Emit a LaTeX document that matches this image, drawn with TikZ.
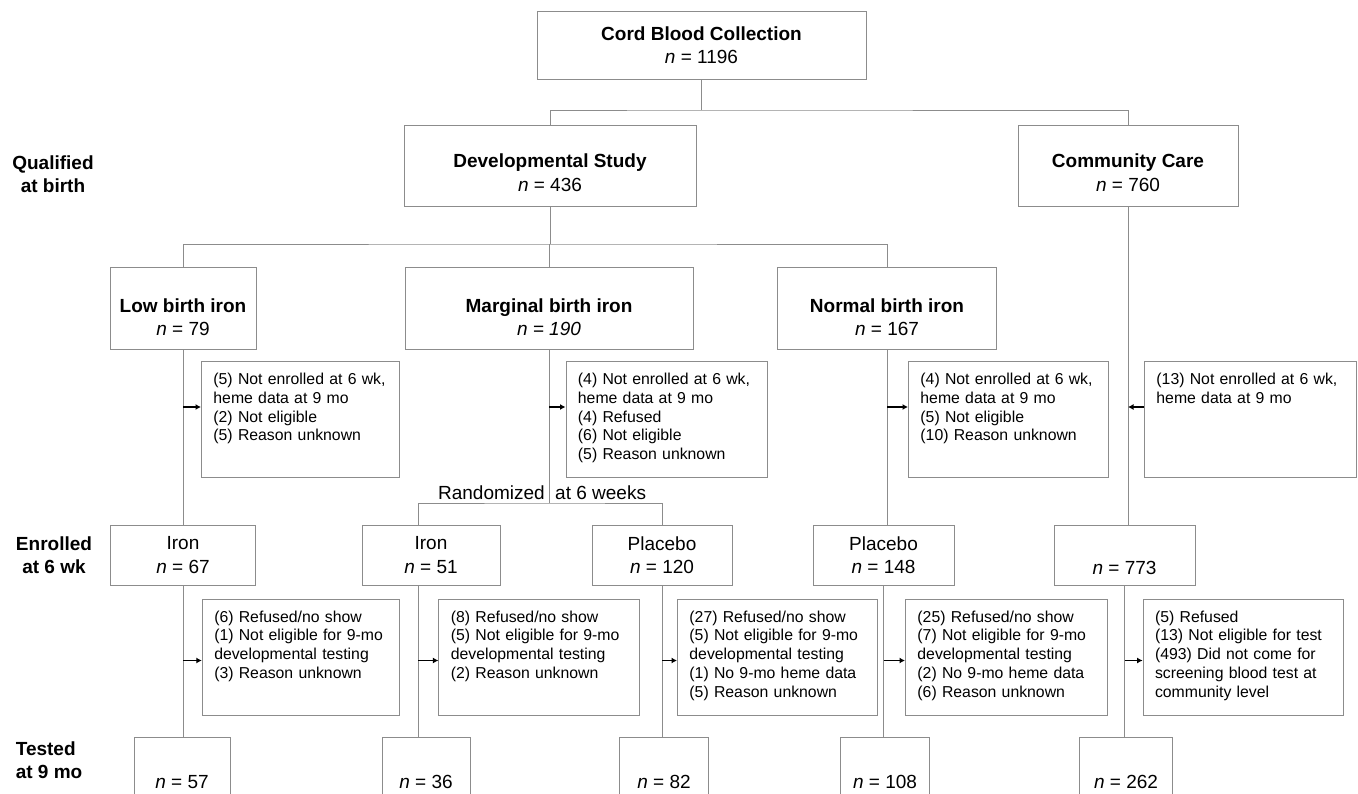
\documentclass[tikz,border=0pt]{standalone}
\usepackage{fontspec}
\setmainfont{Liberation Sans}
\usetikzlibrary{arrows.meta,positioning,calc}
\definecolor{frame}{HTML}{8C8C8C}

\begin{document}
\begin{tikzpicture}[x=1pt,y=-1pt,
  s/.style={draw=frame,line width=0.9pt,inner sep=0pt,align=center,
            font=\fontsize{19}{23.5}\selectfont},
  e/.style={draw=frame,line width=0.9pt,anchor=north west,align=left,
            inner xsep=12pt,inner ysep=6pt,text height=17pt,text depth=87pt,
            font=\fontsize{15.8}{18.8}\selectfont},
  lab/.style={inner sep=0pt,align=center,font=\fontsize{19}{22.6}\selectfont\bfseries},
  rz/.style={inner sep=0pt,font=\fontsize{19}{23}\selectfont},
  ln/.style={draw=frame,line width=0.9pt},
  a/.style={-{Latex[length=5.5pt,width=6pt]},line width=1.3pt}
]
  \useasboundingbox (0,0) rectangle (1358,793);

  % row labels
  \node[lab] (qual) at (53,174) {Qualified\\at birth};
  \node[lab] (enrol) at (54,555.5) {Enrolled\\at 6 wk};
  \node[lab,anchor=west,align=left] (test) at (15.6,760.4) {Tested\\at 9 mo};

  % top
  \node[s,minimum width=329,minimum height=68] (cord) at (701.5,45) {\textbf{Cord Blood Collection}\\\textit{n} = 1196};
  \node[s,minimum width=292,minimum height=81] (dev) at (550,165.5) {\rule{0pt}{28pt}\textbf{Developmental Study}\\\textit{n} = 436};
  \node[s,minimum width=220,minimum height=81] (comm) at (1128,165.5) {\rule{0pt}{28pt}\textbf{Community Care}\\\textit{n} = 760};

  % birth iron groups
  \node[s,minimum width=146,minimum height=82] (low) at (183,308) {\rule{0pt}{32pt}\textbf{Low birth iron}\\\textit{n} = 79};
  \node[s,minimum width=288,minimum height=82] (marg) at (549,308) {\rule{0pt}{32pt}\textbf{Marginal birth iron}\\\textit{n = 190}};
  \node[s,minimum width=219,minimum height=82] (norm) at (887,308) {\rule{0pt}{32pt}\textbf{Normal birth iron}\\\textit{n} = 167};

  \node[e,text width=174] (exlow) at (201,361) {(5) Not enrolled at 6 wk,\\heme data at 9 mo\\(2) Not eligible\\(5) Reason unknown};
  \node[e,text width=177] (exmarg) at (565.5,361) {(4) Not enrolled at 6 wk,\\heme data at 9 mo\\(4) Refused\\(6) Not eligible\\(5) Reason unknown};
  \node[e,text width=176] (exnorm) at (908,361) {(4) Not enrolled at 6 wk,\\heme data at 9 mo\\(5) Not eligible\\(10) Reason unknown};
  \node[e,text width=188] (excomm) at (1144,361) {(13) Not enrolled at 6 wk,\\heme data at 9 mo};

  % enrolled at 6 wk
  \node[s,minimum width=145,minimum height=60] (iron1) at (183,555) {Iron\\\textit{n} = 67};
  \node[s,minimum width=138,minimum height=60] (iron2) at (431,555) {Iron\\\textit{n} = 51};
  \node[s,minimum width=140,minimum height=60] (plac1) at (662,555) {Placebo\\\textit{n} = 120};
  \node[s,minimum width=141,minimum height=60] (plac2) at (883.5,555) {Placebo\\\textit{n} = 148};
  \node[s,minimum width=141,minimum height=60] (comm2) at (1124.5,555) {\rule{0pt}{39.6pt}\textit{n} = 773};

  \node[e,text width=173] (exi1) at (201.8,598.7) {(6) Refused/no show\\(1) Not eligible for 9-mo\\developmental testing\\(3) Reason unknown};
  \node[e,text width=177] (exi2) at (438.4,598.7) {(8) Refused/no show\\(5) Not eligible for 9-mo\\developmental testing\\(2) Reason unknown};
  \node[e,text width=176] (exp1) at (677,598.7) {(27) Refused/no show\\(5) Not eligible for 9-mo\\developmental testing\\(1) No 9-mo heme data\\(5) Reason unknown};
  \node[e,text width=178] (exp2) at (905,598.7) {(25) Refused/no show\\(7) Not eligible for 9-mo\\developmental testing\\(2) No 9-mo heme data\\(6) Reason unknown};
  \node[e,text width=176] (exc2) at (1142.6,598.7) {(5) Refused\\(13) Not eligible for test\\(493) Did not come for\\screening blood test at\\community level};

  % tested at 9 mo
  \node[s,minimum width=96,minimum height=88] (t1) at (182,781.7) {\textit{n} = 57};
  \node[s,minimum width=88,minimum height=88] (t2) at (426,781.7) {\textit{n} = 36};
  \node[s,minimum width=89,minimum height=88] (t3) at (664,781.7) {\textit{n} = 82};
  \node[s,minimum width=89,minimum height=88] (t4) at (885,781.7) {\textit{n} = 108};
  \node[s,minimum width=93.5,minimum height=88] (t5) at (1126,781.7) {\textit{n} = 262};

  % tree lines
  \coordinate (bus1) at (cord.south |- 0,110);
  \draw[ln] (cord.south) -- (bus1);
  \draw[ln] (dev.north) |- (bus1) -| (comm.north);
  \coordinate (bus2) at (dev.south |- 0,244);
  \draw[ln] (dev.south) -- (bus2);
  \draw[ln] (low.north) |- (bus2) -| (norm.north);
  \draw[ln] (marg.north |- bus2) -- (marg.north);

  \draw[ln] (low.south) -- (low.south |- iron1.north);
  \draw[ln] (iron1.south) -- (iron1.south |- t1.north);
  \coordinate (rb) at (marg.south |- 0,503);
  \draw[ln] (marg.south) -- (rb);
  \coordinate (c2a) at ([xshift=-13pt]iron2.north);
  \coordinate (c2b) at ([xshift=-13pt]iron2.south);
  \draw[ln] (c2a) |- (rb) -| (plac1.north);
  \draw[ln] (c2b) -- (c2b |- t2.north);
  \draw[ln] (plac1.south) -- (plac1.south |- t3.north);
  \draw[ln] (norm.south) -- (norm.south |- plac2.north);
  \draw[ln] (plac2.south) -- (plac2.south |- t4.north);
  \draw[ln] (comm.south) -- (comm.south |- comm2.north);
  \draw[ln] (comm2.south) -- (comm2.south |- t5.north);

  \node[rz,above left=3pt and 4pt of rb] (rand1) {Randomized};
  \node[rz,above right=3pt and 6pt of rb] (rand2) {at 6 weeks};

  % exclusions
  \coordinate (q1) at (0,407);
  \draw[a] (low.south |- q1) -- (exlow.west |- q1);
  \draw[a] (marg.south |- q1) -- (exmarg.west |- q1);
  \draw[a] (norm.south |- q1) -- (exnorm.west |- q1);
  \draw[a] (excomm.west |- q1) -- (comm.south |- q1);
  \coordinate (q2) at (0,660.5);
  \draw[a] (iron1.south |- q2) -- (exi1.west |- q2);
  \draw[a] (c2b |- q2) -- (exi2.west |- q2);
  \draw[a] (plac1.south |- q2) -- (exp1.west |- q2);
  \draw[a] (plac2.south |- q2) -- (exp2.west |- q2);
  \draw[a] (comm2.south |- q2) -- (exc2.west |- q2);
\end{tikzpicture}
\end{document}
